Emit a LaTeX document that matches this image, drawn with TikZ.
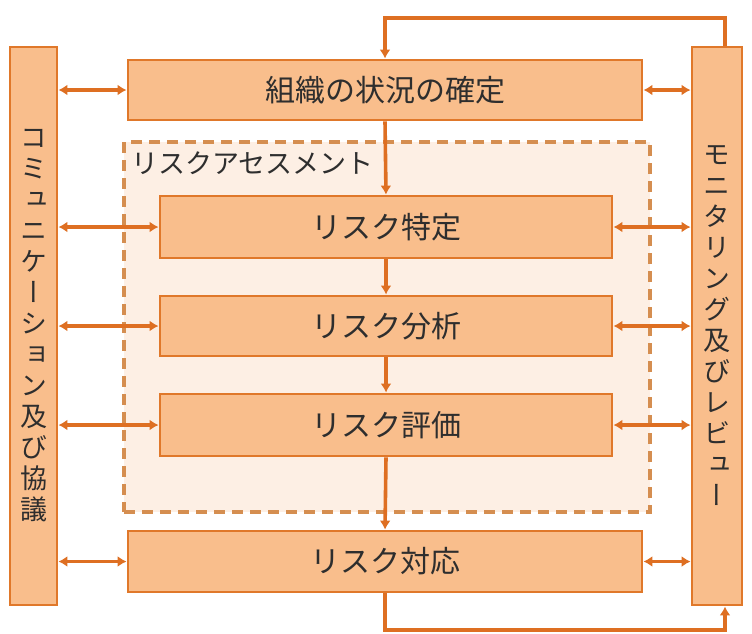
\documentclass[tikz,border=0pt]{standalone}
\usepackage{fontspec}
\setmainfont{Noto Sans CJK JP}
\newfontfamily\vfont[RawFeature=+vert]{Noto Sans CJK JP}
\usetikzlibrary{arrows.meta}
\definecolor{boxfill}{HTML}{F9BE8C}
\definecolor{boxline}{HTML}{E0782A}
\definecolor{arrline}{HTML}{DE6F22}
\definecolor{dashfill}{HTML}{FDEFE4}
\definecolor{dashline}{HTML}{D58E50}
\definecolor{txt}{HTML}{2E2E2E}
\begin{document}
\begin{tikzpicture}[x=1pt,y=-1pt,
  box/.style={draw=boxline, fill=boxfill, line width=2.8pt, inner sep=0pt, text=txt, font=\fontsize{30}{34}\selectfont},
  vbox/.style={box, font=\vfont\fontsize{27}{31}\selectfont, align=center},
  arr/.style={draw=arrline, line width=3.6pt, -{Latex[length=9pt,width=11pt]}},
  darr/.style={draw=arrline, line width=3.6pt, {Latex[length=9pt,width=11pt]}-{Latex[length=9pt,width=11pt]}}]
\useasboundingbox (0,0) rectangle (752,633);
\fill[white] (0,0) rectangle (752,633);
% dashed assessment region
\node[draw=dashline, fill=dashfill, dash pattern=on 11pt off 7pt, line width=3.2pt, minimum width=526pt, minimum height=370pt, inner sep=0pt] (assess) at (387,327) {};
\node[anchor=west, text=txt, font=\fontsize{27}{30}\selectfont, inner sep=0pt] (assesslbl) at (131,163) {リスクアセスメント};
% main boxes
\node[box, minimum width=514pt, minimum height=60pt] (org) at (385,90) {組織の状況の確定};
\node[box, minimum width=452pt, minimum height=62pt] (tok) at (386,227) {リスク特定};
\node[box, minimum width=452pt, minimum height=60pt] (bun) at (386,326) {リスク分析};
\node[box, minimum width=452pt, minimum height=62pt] (hyo) at (386,425) {リスク評価};
\node[box, minimum width=514pt, minimum height=61pt] (tai) at (385,561.5) {リスク対応};
% side boxes
\node[vbox, minimum width=47pt, minimum height=558pt] (left) at (33.5,326) {コ\\ミ\\ュ\\ニ\\ケ\\ー\\シ\\ョ\\ン\\及\\び\\協\\議};
\node[vbox, minimum width=50pt, minimum height=558pt] (right) at (717,326) {モ\\ニ\\タ\\リ\\ン\\グ\\及\\び\\レ\\ビ\\ュ\\ー};
% loop coordinates
\coordinate (t1) at (385,18);
\coordinate (t2) at (725,18);
\coordinate (b1) at (385,630);
\coordinate (b2) at (725,630);
% top feedback
\draw[arr] (right.north -| t2) -- (t2) -- (t1) -- (org.north);
% bottom feedback
\draw[arr] (tai.south) -- (b1) -- (b2) -- (right.south -| b2);
% vertical flow
\draw[arr] (org.south) -- (tok.north);
\draw[arr] (tok.south) -- (bun.north);
\draw[arr] (bun.south) -- (hyo.north);
\draw[arr] (hyo.south) -- (tai.north);
% left double arrows
\draw[darr] (left.east |- org) -- (org.west);
\draw[darr] (left.east |- tok) -- (tok.west);
\draw[darr] (left.east |- bun) -- (bun.west);
\draw[darr] (left.east |- hyo) -- (hyo.west);
\draw[darr] (left.east |- tai) -- (tai.west);
% right double arrows
\draw[darr] (org.east) -- (right.west |- org);
\draw[darr] (tok.east) -- (right.west |- tok);
\draw[darr] (bun.east) -- (right.west |- bun);
\draw[darr] (hyo.east) -- (right.west |- hyo);
\draw[darr] (tai.east) -- (right.west |- tai);
\end{tikzpicture}
\end{document}
